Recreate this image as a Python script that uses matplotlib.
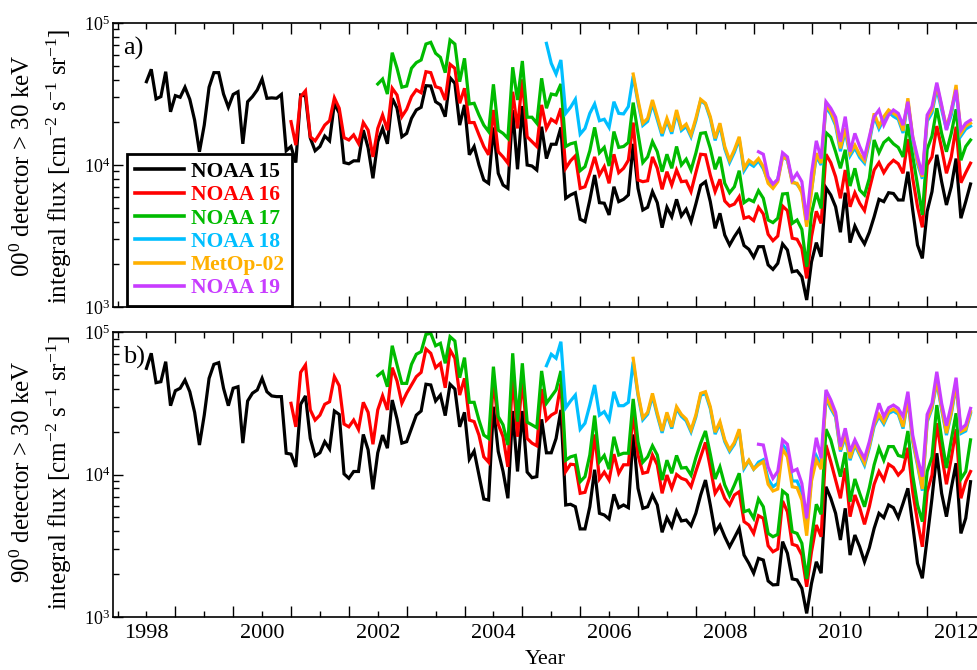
import numpy as np
import matplotlib
matplotlib.use("Agg")
import matplotlib.pyplot as plt
from matplotlib.ticker import LogLocator, LogFormatterMathtext, NullFormatter
from matplotlib.font_manager import FontProperties

plt.rcParams['font.family'] = ['Liberation Serif', 'DejaVu Serif']
plt.rcParams['mathtext.fontset'] = 'custom'
plt.rcParams['mathtext.rm'] = 'Liberation Serif'
plt.rcParams['mathtext.it'] = 'Liberation Serif:italic'
plt.rcParams['mathtext.bf'] = 'Liberation Serif:bold'

# ---------------- data (monthly averages) ----------------
satellites = ["NOAA 15", "NOAA 16", "NOAA 17", "NOAA 18", "MetOp-02", "NOAA 19"]
colors = ["#000000", "#ff0000", "#00bb00", "#00bfff", "#ffb000", "#c83cff"]
# first month of each record (year, month)
first_month = [(1998, 1), (2000, 7), (2002, 1), (2004, 12), (2006, 6), (2008, 8)]

# ---- panel a) 0 deg detector ----
a_noaa15 = [38600, 47200, 29200, 30300, 45400, 23700, 30800, 30000, 35300, 29000,
            20700, 12400, 19100, 35300, 44700, 44700, 31600, 25500, 31400, 32800,
            14100, 27900, 30300, 33800, 40300, 29500, 29700, 29500, 31400, 12600,
            13500, 10400, 31100, 30600, 15500, 12600, 13500, 16000, 14800, 27200,
            23200, 10400, 10200, 10700, 10700, 17600, 13200, 8060, 14600, 18100,
            14100, 29500, 25100, 15800, 16700, 21300, 24400, 25500, 36200, 36000,
            27900, 26500, 21900, 41200, 37600, 19100, 26500, 11800, 13500, 10000,
            7840, 7430, 18400, 8740, 7230, 6850, 24400, 9330, 26000, 10000,
            9840, 9220, 18600, 11100, 14000, 14000, 18400, 5830, 6150, 6380,
            4150, 3990, 5670, 8500, 5430, 5380, 4450, 7030, 5520, 5730,
            6150, 14100, 6850, 4820, 5040, 6490, 5430, 3620, 5040, 4320,
            5730, 4380, 4880, 3990, 5310, 7190, 7630, 5520, 3580, 4570,
            3210, 2730, 3130, 3520, 2710, 2550, 2240, 2660, 2660, 1980,
            1840, 2030, 2780, 2520, 1770, 1800, 1630, 1120, 2080, 2840,
            2260, 6920, 6150, 5080, 3360, 6380, 2840, 3720, 3160, 2780,
            3360, 4320, 5730, 5520, 6380, 6300, 5670, 5670, 8970, 4820,
            2730, 2200, 4720, 6490, 11800, 7630, 5230, 7030, 11100, 4220,
            5520, 7350]
a_noaa16 = [20200, 13800, 30300, 33300, 15800, 14800, 16700, 19100, 20500, 29700,
            25100, 15600, 15000, 16300, 14200, 19900, 17600, 11400, 18100, 22500,
            17600, 34700, 31100, 21900, 24700, 30300, 33800, 32300, 45400, 44700,
            35600, 34700, 28700, 51200, 48000, 27200, 34700, 19900, 19900, 16300,
            13500, 11800, 24400, 12400, 11400, 10300, 32800, 18100, 40100, 15800,
            14600, 13500, 26500, 18100, 21000, 19900, 25100, 9480, 10700, 11600,
            6850, 7030, 8740, 11400, 8500, 9730, 7430, 11900, 8830, 9480,
            10800, 19900, 7840, 7630, 7750, 11400, 9480, 6740, 8970, 7230,
            9220, 7630, 7710, 6490, 8830, 11900, 11800, 8500, 6490, 7930,
            5580, 5140, 5310, 5980, 4220, 4320, 4060, 5040, 4520, 3250,
            2930, 3160, 5140, 4770, 3050, 3000, 2590, 1590, 3130, 4720,
            3880, 11900, 10400, 8270, 5830, 9220, 5080, 6380, 5380, 4770,
            6740, 9220, 10400, 8830, 10000, 10800, 10200, 8740, 15200, 8060,
            5080, 3640, 10000, 11400, 18800, 13100, 8740, 11400, 18600, 7500,
            8830, 10300]
a_noaa17 = [37200, 40300, 31600, 61800, 48000, 35300, 36000, 48000, 52600, 54900,
            71100, 73100, 61200, 57300, 44700, 75900, 71100, 38600, 56400, 26900,
            27200, 22500, 19100, 17200, 37000, 17600, 16700, 15400, 48800, 28700,
            54000, 21700, 21700, 19700, 40800, 25100, 31600, 31100, 37200, 13500,
            14100, 14400, 9120, 9730, 12600, 18400, 12200, 13300, 9840, 17200,
            13300, 13500, 14400, 27500, 16700, 10400, 11400, 14600, 12400, 8970,
            11900, 9480, 13500, 10000, 11000, 9220, 12100, 16700, 16900, 13100,
            9330, 11400, 7430, 6380, 7030, 9120, 5430, 5730, 5520, 6590,
            5830, 4100, 3930, 4220, 6250, 6300, 3880, 4100, 3520, 1920,
            4570, 6380, 4950, 16900, 15700, 12400, 9480, 12800, 7110, 9480,
            6670, 6150, 8060, 15000, 12200, 14400, 15400, 14100, 13300, 11400,
            19400, 11600, 7230, 4450, 12900, 16000, 25100, 16700, 12400, 16700,
            24700, 10800, 13500, 15000]
a_noaa18 = [71900, 52000, 43700, 54900, 23100, 25500, 29000, 16500, 18100, 23100,
            26900, 20500, 21000, 18400, 27900, 23100, 22900, 25800, 42300, 27500,
            19000, 20300, 27000, 20900, 16000, 20500, 16600, 23200, 17500, 18700,
            15800, 20500, 28500, 26800, 21200, 14900, 19000, 13000, 10400, 12300,
            15200, 9100, 10300, 9800, 10700, 9400, 7700, 7100, 7900, 11600,
            10800, 7700, 7300, 6600, 3900, 6700, 11500, 10000, 25500, 22800,
            19000, 12500, 17300, 11600, 13200, 11300, 10300, 14400, 22000, 18000,
            21000, 23500, 22000, 21000, 16800, 28000, 15200, 10200, 8000, 20300,
            23300, 34500, 24500, 17800, 22500, 34500, 16000, 17900, 18800]
a_metop02 = [43700, 28700, 19700, 21300, 28700, 21900, 16700, 21300, 17200, 24400,
             18100, 19400, 16300, 21300, 29000, 27200, 21900, 15400, 19700, 13500,
             10800, 12800, 15800, 9480, 10800, 10200, 11100, 9730, 7430, 6850,
             7630, 11400, 11000, 7500, 7430, 6380, 3680, 6490, 12100, 10300,
             26500, 23700, 19700, 13100, 18100, 12100, 13800, 11800, 10700, 15000,
             23100, 18800, 21900, 24400, 23100, 21900, 17400, 29500, 15800, 10600,
             8270, 21300, 24400, 36600, 25800, 18600, 23700, 36600, 16700, 18800,
             19700]
a_noaa19 = [12400, 11900, 8270, 7350, 7930, 12200, 11400, 7840, 8740, 7630,
            4100, 8740, 14800, 11100, 27900, 25100, 21700, 14600, 21900, 12400,
            16700, 13500, 11400, 15800, 21900, 24400, 19100, 22500, 24400, 23100,
            19100, 27900, 15800, 11400, 8500, 22500, 25800, 38000, 26500, 17600,
            24400, 33800, 17600, 19700, 20700]

# ---- panel b) 90 deg detector ----
b_noaa15 = [55600, 70900, 44100, 44800, 61900, 30400, 38700, 40300, 46000, 38100,
            27300, 16100, 26100, 47300, 59300, 60900, 40300, 30400, 40300, 41300,
            16600, 32800, 37200, 39200, 47300, 38100, 35600, 35200, 35200, 14100,
            13900, 11300, 31100, 35600, 17900, 13500, 14200, 17000, 15100, 27900,
            26400, 10100, 9400, 10500, 10500, 19100, 14900, 7870, 14200, 18900,
            15300, 33300, 24500, 16600, 17000, 21100, 26100, 27900, 43000, 42500,
            32800, 36100, 25900, 43000, 39800, 21600, 27300, 12800, 14600, 9910,
            6730, 6620, 29900, 14500, 10500, 6810, 27900, 10500, 27900, 10400,
            9500, 9660, 24400, 14200, 14200, 17900, 28400, 6110, 6180, 5940,
            4150, 4150, 5940, 10800, 5340, 5200, 4870, 7260, 5850, 6110,
            5850, 19100, 8000, 5790, 5940, 7180, 6110, 3930, 4980, 4300,
            5540, 4720, 4790, 4370, 5340, 7180, 9140, 6110, 3930, 4420,
            3660, 3110, 3600, 4190, 2720, 2380, 2030, 2580, 2510, 1790,
            1680, 1690, 3380, 2800, 1850, 1820, 1590, 1060, 1720, 2440,
            2030, 8200, 6810, 5340, 3470, 5790, 2720, 3760, 3110, 2440,
            3060, 4190, 5340, 4980, 6110, 5850, 4980, 6280, 8000, 4420,
            2380, 1870, 3560, 6810, 14100, 7380, 5060, 8000, 12000, 3860,
            4930, 8900]
b_noaa16 = [31600, 21600, 52100, 58700, 28400, 24100, 26100, 31100, 32400, 48600,
            42000, 22600, 21600, 24100, 20700, 32100, 27300, 16300, 28400, 35700,
            28400, 56200, 45300, 31600, 37200, 42500, 48600, 52100, 76000, 70900,
            56200, 60300, 40600, 74800, 65400, 36100, 47300, 24100, 23500, 18900,
            13300, 12200, 47300, 22500, 18400, 11300, 50500, 18400, 47300, 17900,
            16600, 15900, 39800, 24100, 26100, 27300, 43600, 10500, 11800, 11700,
            7380, 7500, 9660, 19100, 9300, 10400, 9140, 13900, 10200, 11700,
            11700, 26900, 13700, 10200, 10400, 13700, 11700, 7380, 9910, 8000,
            10000, 9400, 9140, 8200, 10500, 13300, 16800, 11200, 7380, 8340,
            6810, 6110, 7180, 7570, 4670, 4420, 3860, 5140, 4930, 3160,
            2870, 3000, 6520, 5480, 3240, 3160, 2720, 1630, 2870, 4420,
            3660, 16100, 12300, 9140, 6810, 11100, 5060, 7180, 5850, 4470,
            5940, 8540, 10500, 9140, 11800, 11200, 9910, 10800, 15400, 7570,
            4670, 3110, 7570, 9910, 22900, 13700, 8540, 13000, 20800, 6810,
            8900, 10500]
b_noaa17 = [49400, 52600, 41300, 80100, 58700, 43600, 43600, 59300, 69800, 72800,
            96300, 97900, 80100, 83300, 60300, 92700, 86500, 47800, 66100, 32100,
            32100, 24100, 18900, 17900, 57100, 25500, 22300, 16100, 70900, 23500,
            60300, 23300, 22300, 21300, 53300, 31600, 35200, 39200, 53300, 12600,
            13300, 13600, 8900, 9660, 13700, 25900, 12300, 13600, 10900, 18400,
            13700, 14100, 14100, 33900, 17000, 12200, 13300, 15900, 13700, 9140,
            12600, 10200, 13600, 11100, 11200, 9910, 13100, 16600, 20200, 13900,
            9300, 11300, 8440, 7100, 8440, 10200, 5480, 5630, 4930, 6730,
            5940, 3860, 3660, 3800, 7660, 7180, 3970, 3860, 3290, 1850,
            3560, 6180, 5260, 20800, 17500, 13000, 9660, 14300, 6440, 9300,
            7380, 5940, 8080, 11700, 15300, 12600, 15700, 15700, 13600, 13300,
            20200, 9910, 6110, 4670, 10500, 13300, 30700, 17900, 11100, 17500,
            26900, 9300, 10500, 17500]
b_noaa18 = [58000, 69800, 65400, 85500, 29400, 32800, 36100, 20800, 22900, 30700,
            42500, 26100, 27600, 24100, 38100, 30400, 30400, 32100, 61900, 36000,
            24200, 26500, 35500, 26000, 19600, 26500, 21000, 29000, 25600, 23800,
            19900, 25300, 36000, 37000, 29000, 19200, 22800, 17000, 14500, 16300,
            20200, 11000, 12500, 10900, 12200, 12700, 9300, 8200, 8700, 16200,
            14700, 9000, 9000, 7500, 4200, 9600, 13500, 11500, 34000, 29000,
            25300, 14500, 18300, 12600, 16100, 13700, 11600, 15400, 21800, 25600,
            22600, 26800, 27900, 26500, 21000, 33300, 17000, 11600, 7700, 23400,
            29000, 44600, 28500, 18900, 26500, 42300, 19400, 20200, 26800]
b_metop02 = [65400, 37100, 25000, 27300, 37100, 26900, 20200, 27300, 21600, 29900,
             26400, 24500, 20500, 26100, 37100, 38100, 29900, 19800, 23500, 17500,
             14900, 16800, 20800, 11300, 12600, 10900, 11700, 12300, 8540, 7660,
             7910, 15100, 13300, 8200, 8080, 6620, 3720, 9010, 12600, 10900,
             35200, 29900, 26100, 14900, 18900, 13000, 16600, 14100, 12000, 15900,
             22500, 26400, 23300, 27600, 28800, 27300, 21600, 34300, 17500, 12000,
             7910, 24100, 29900, 46000, 29400, 19500, 27300, 43600, 20000, 20800,
             27600]
b_noaa19 = [16300, 16100, 11300, 9400, 10500, 17500, 16300, 10500, 10900, 8650,
            4930, 10900, 18100, 13000, 39200, 33400, 27300, 15700, 21100, 14500,
            17500, 14900, 13000, 17000, 23700, 31600, 25500, 29400, 30700, 29100,
            25500, 38100, 18900, 13000, 9660, 26400, 31600, 52600, 31600, 22000,
            30700, 47800, 20800, 22300, 29100]

panel_a = [a_noaa15, a_noaa16, a_noaa17, a_noaa18, a_metop02, a_noaa19]
panel_b = [b_noaa15, b_noaa16, b_noaa17, b_noaa18, b_metop02, b_noaa19]

panel_titles = ["a)", "b)"]
ylabels = [("00$^0$ detector > 30 keV", "integral flux [cm$^{-2}$ s$^{-1}$ sr$^{-1}$]"),
           ("90$^0$ detector > 30 keV", "integral flux [cm$^{-2}$ s$^{-1}$ sr$^{-1}$]")]
year_labels = [1998, 2000, 2002, 2004, 2006, 2008, 2010, 2012]


def years_for(start, n):
    y, m = start
    return y + (m - 1) / 12.0 + np.arange(n) / 12.0


# ---------------- figure ----------------
W, H = 978, 670
fig = plt.figure(figsize=(W / 100, H / 100), dpi=100)


def px_axes(x0, y0, x1, y1):
    return fig.add_axes([x0 / W, 1 - y1 / H, (x1 - x0) / W, (y1 - y0) / H])


ax_a = px_axes(113, 23, 985, 307)
ax_b = px_axes(113, 332, 985, 617)

xmin, xmax = 1997.422, 2012.374
for i, (ax, data) in enumerate([(ax_a, panel_a), (ax_b, panel_b)]):
    for vals, start, col, name in zip(data, first_month, colors, satellites):
        ax.plot(years_for(start, len(vals)), vals, color=col, lw=2.3, label=name,
                solid_joinstyle='miter')
    ax.set_yscale('log')
    ax.set_ylim(1e3, 1e5)
    ax.set_xlim(xmin, xmax)
    ax.yaxis.set_major_locator(LogLocator(base=10, numticks=5))
    ax.yaxis.set_minor_locator(LogLocator(base=10, subs=np.arange(2, 10), numticks=20))
    ax.yaxis.set_major_formatter(LogFormatterMathtext())
    ax.yaxis.set_minor_formatter(NullFormatter())
    ax.tick_params(axis='y', which='major', direction='in', length=7, width=1,
                   labelsize=13, pad=2, right=False)
    ax.tick_params(axis='y', which='minor', direction='in', length=4, width=1, right=False)
    # x ticks: long ticks at half years, short ticks at whole years
    ax.set_xticks(np.arange(1998.5, 2012.6, 1.0))
    ax.set_xticklabels([])
    minor_pos = np.concatenate([[1997.5], np.arange(1998, 2013, 1.0)])
    if i == 1:
        labs = [str(int(p)) if (p in year_labels) else "" for p in minor_pos]
    else:
        labs = ["" for p in minor_pos]
    ax.set_xticks(minor_pos, minor=True)
    ax.set_xticklabels(labs, minor=True)
    ax.tick_params(axis='x', which='major', direction='in', length=8, width=1, top=True)
    ax.tick_params(axis='x', which='minor', direction='in', length=4, width=1, top=True,
                   labelsize=16, pad=5)
    for s in ax.spines.values():
        s.set_linewidth(1.2)
    ax.text(10 / 872, 1 - 25 / 284, panel_titles[i], transform=ax.transAxes,
            fontsize=19, ha='left', va='center')

# legend in panel a
leg = ax_a.legend(loc='lower left', bbox_to_anchor=(14 / 872, 1 / 284),
                  prop=FontProperties(family='Liberation Serif', weight='bold', size=15.5),
                  frameon=True, fancybox=False, edgecolor='black', framealpha=1,
                  handlelength=2.3, handletextpad=0.3, labelspacing=0.15,
                  borderpad=0.35, borderaxespad=0)
leg.get_frame().set_linewidth(2)
for txt, ln in zip(leg.get_texts(), leg.get_lines()):
    txt.set_color(ln.get_color())
    ln.set_linewidth(2.6)

# y-axis labels (two lines each)
for (l1, l2), yc in zip(ylabels, [166, 472]):
    fig.text(23 / W, 1 - yc / H, l1, rotation=90, ha='center', va='center', fontsize=18)
    fig.text(59 / W, 1 - yc / H, l2, rotation=90, ha='center', va='center', fontsize=18)

fig.text(545 / W, 1 - 660 / H, "Year", ha='center', va='center', fontsize=16)

fig.savefig("out.png", dpi=100)
